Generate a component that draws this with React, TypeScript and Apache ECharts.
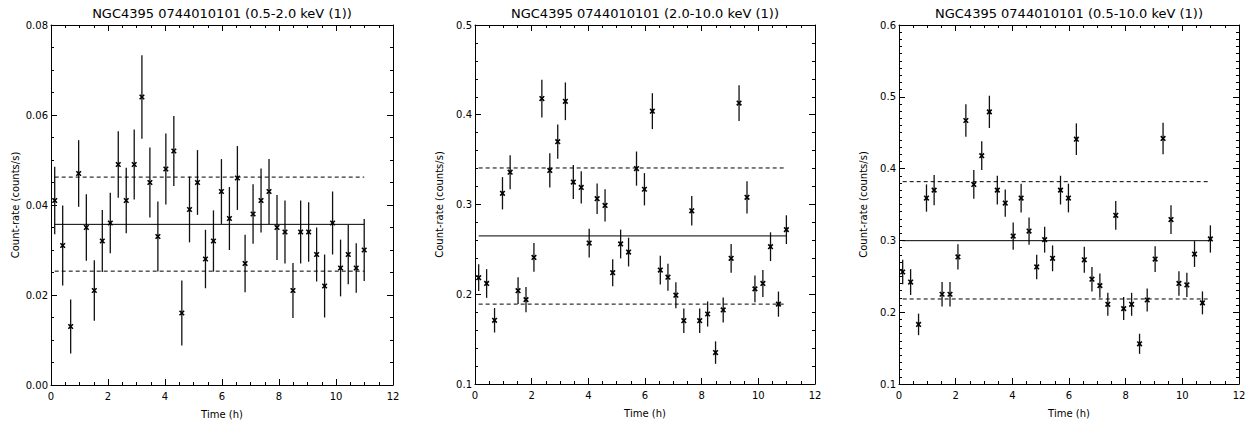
import React, { useEffect, useRef } from "react";
import * as echarts from "echarts";

// Time of each bin (h)
const times = [
  0.13, 0.41, 0.69, 0.97, 1.24, 1.52, 1.8, 2.08, 2.36, 2.64,
  2.92, 3.19, 3.47, 3.75, 4.03, 4.31, 4.59, 4.86, 5.14, 5.42,
  5.7, 5.98, 6.26, 6.54, 6.81, 7.09, 7.37, 7.65, 7.93, 8.21,
  8.49, 8.76, 9.04, 9.32, 9.6, 9.88, 10.16, 10.43, 10.71, 10.99,
];

// Panel 1: 0.5-2.0 keV
const rate1 = [
  0.041, 0.031, 0.013, 0.047, 0.035, 0.021, 0.032, 0.036, 0.049, 0.041,
  0.049, 0.064, 0.045, 0.033, 0.048, 0.052, 0.016, 0.039, 0.045, 0.028,
  0.032, 0.043, 0.037, 0.046, 0.027, 0.038, 0.041, 0.043, 0.035, 0.034,
  0.021, 0.034, 0.034, 0.029, 0.022, 0.036, 0.026, 0.029, 0.026, 0.03,
];
const err1 = [
  0.0075, 0.0089, 0.006, 0.0074, 0.0074, 0.0067, 0.0069, 0.0067, 0.0074, 0.0073,
  0.0078, 0.0093, 0.0078, 0.0078, 0.0079, 0.0078, 0.0072, 0.0073, 0.0072, 0.0065,
  0.0068, 0.0072, 0.007, 0.0071, 0.0064, 0.0066, 0.0071, 0.0072, 0.0072, 0.007,
  0.0061, 0.007, 0.0066, 0.006, 0.007, 0.007, 0.0063, 0.0066, 0.0055, 0.0069,
];
const levels1 = { mean: 0.0357, upper: 0.0462, lower: 0.0253 };

// Panel 2: 2.0-10.0 keV
const rate2 = [
  0.2185, 0.212, 0.171, 0.3125, 0.336, 0.204, 0.194, 0.241, 0.418, 0.338,
  0.37, 0.415, 0.325, 0.319, 0.257, 0.3065, 0.299, 0.224, 0.256, 0.247,
  0.34, 0.317, 0.404, 0.227, 0.219, 0.199, 0.1705, 0.293, 0.1705, 0.178,
  0.135, 0.1825, 0.24, 0.413, 0.308, 0.206, 0.212, 0.253, 0.189, 0.272,
];
const err2 = [
  0.015, 0.016, 0.0136, 0.018, 0.019, 0.015, 0.014, 0.016, 0.021, 0.019,
  0.019, 0.021, 0.019, 0.018, 0.016, 0.017, 0.018, 0.015, 0.016, 0.016,
  0.019, 0.018, 0.02, 0.016, 0.015, 0.0145, 0.0136, 0.0165, 0.0136, 0.014,
  0.0125, 0.014, 0.016, 0.02, 0.018, 0.015, 0.015, 0.016, 0.014, 0.016,
];
const levels2 = { mean: 0.265, upper: 0.3407, lower: 0.189 };

// Panel 3: 0.5-10.0 keV
const rate3 = [
  0.256, 0.242, 0.183, 0.359, 0.37, 0.225, 0.225, 0.277, 0.467, 0.378,
  0.418, 0.479, 0.37, 0.352, 0.306, 0.359, 0.313, 0.263, 0.301, 0.275,
  0.37, 0.359, 0.441, 0.273, 0.246, 0.237, 0.211, 0.335, 0.205, 0.211,
  0.156, 0.217, 0.274, 0.442, 0.329, 0.24, 0.238, 0.281, 0.213, 0.302,
];
const err3 = [
  0.017, 0.018, 0.015, 0.019, 0.021, 0.017, 0.017, 0.0175, 0.0225, 0.02,
  0.02, 0.0225, 0.02, 0.019, 0.019, 0.02, 0.019, 0.017, 0.018, 0.018,
  0.02, 0.02, 0.022, 0.018, 0.017, 0.017, 0.016, 0.02, 0.016, 0.016,
  0.014, 0.016, 0.018, 0.022, 0.02, 0.017, 0.017, 0.018, 0.016, 0.019,
];
const levels3 = { mean: 0.2996, upper: 0.3818, lower: 0.2184 };

const titles = [
  "NGC4395 0744010101 (0.5-2.0 keV (1))",
  "NGC4395 0744010101 (2.0-10.0 keV (1))",
  "NGC4395 0744010101 (0.5-10.0 keV (1))",
];
const xTicks = { min: 0, max: 12, interval: 2 };
const yRanges = [
  { min: 0, max: 0.08, interval: 0.02, minor: 4, digits: 2 },
  { min: 0.1, max: 0.5, interval: 0.1, minor: 5, digits: 1 },
  { min: 0.1, max: 0.6, interval: 0.1, minor: 10, digits: 1 },
];

const FONT = "DejaVu Sans";

export default function App() {
  const ref = useRef<HTMLDivElement>(null);

  useEffect(() => {
    if (!ref.current) return;
    const chart = echarts.init(ref.current, undefined, { renderer: "svg" });

    const panels = [
      { rate: rate1, err: err1, levels: levels1 },
      { rate: rate2, err: err2, levels: levels2 },
      { rate: rate3, err: err3, levels: levels3 },
    ];
    const grids = [
      { left: 51, top: 25, width: 342, height: 360 },
      { left: 475, top: 25, width: 340, height: 359 },
      { left: 899, top: 25, width: 340, height: 359 },
    ];

    const axisLine = { show: true, onZero: false, lineStyle: { color: "#000", width: 1 } };
    const xAxes: any[] = [];
    const yAxes: any[] = [];
    const series: any[] = [];

    grids.forEach((g, i) => {
      const yr = yRanges[i];
      const baseX = {
        type: "value",
        gridIndex: i,
        min: xTicks.min,
        max: xTicks.max,
        interval: xTicks.interval,
        axisLine,
        axisTick: { show: true, inside: true, length: 6, lineStyle: { color: "#000" } },
        minorTick: { show: true, splitNumber: 4, length: 3, lineStyle: { color: "#000" } },
        splitLine: { show: false },
        minorSplitLine: { show: false },
      };
      xAxes.push({
        ...baseX,
        position: "bottom",
        name: "Time (h)",
        nameLocation: "middle",
        nameGap: 24,
        nameTextStyle: { color: "#000", fontSize: 10, fontFamily: FONT },
        axisLabel: { color: "#000", fontSize: 10, fontFamily: FONT, margin: 6 },
      });
      xAxes.push({ ...baseX, position: "top", axisLabel: { show: false } });

      const baseY = {
        type: "value",
        gridIndex: i,
        min: yr.min,
        max: yr.max,
        interval: yr.interval,
        axisLine,
        axisTick: { show: true, inside: true, length: 6, lineStyle: { color: "#000" } },
        minorTick: { show: true, splitNumber: yr.minor, length: 3, lineStyle: { color: "#000" } },
        splitLine: { show: false },
        minorSplitLine: { show: false },
      };
      yAxes.push({
        ...baseY,
        position: "left",
        name: "Count-rate (counts/s)",
        nameLocation: "middle",
        nameGap: 31,
        nameTextStyle: { color: "#000", fontSize: 10, fontFamily: FONT },
        axisLabel: {
          color: "#000",
          fontSize: 10,
          fontFamily: FONT,
          margin: 3,
          formatter: (v: number) => v.toFixed(yr.digits),
        },
      });
      yAxes.push({ ...baseY, position: "right", axisLabel: { show: false } });

      const p = panels[i];
      const data = times.map((t, k) => [t, p.rate[k], p.rate[k] - p.err[k], p.rate[k] + p.err[k]]);
      series.push({
        type: "custom",
        xAxisIndex: 2 * i,
        yAxisIndex: 2 * i,
        data,
        encode: { x: 0, y: [1, 2, 3] },
        renderItem: (params: any, api: any) => {
          const c = api.coord([api.value(0), api.value(1)]);
          const lo = api.coord([api.value(0), api.value(2)]);
          const hi = api.coord([api.value(0), api.value(3)]);
          const s = 2.3;
          return {
            type: "group",
            children: [
              {
                type: "line",
                shape: { x1: c[0], y1: lo[1], x2: c[0], y2: hi[1] },
                style: { stroke: "#111", lineWidth: 1.3 },
              },
              {
                type: "line",
                shape: { x1: c[0] - s, y1: c[1] - s, x2: c[0] + s, y2: c[1] + s },
                style: { stroke: "#000", lineWidth: 1.6 },
              },
              {
                type: "line",
                shape: { x1: c[0] - s, y1: c[1] + s, x2: c[0] + s, y2: c[1] - s },
                style: { stroke: "#000", lineWidth: 1.6 },
              },
            ],
          };
        },
      });

      const t0 = times[0];
      const t1 = times[times.length - 1];
      const lvl = [
        { v: p.levels.mean, type: "solid" },
        { v: p.levels.upper, type: [4, 3] },
        { v: p.levels.lower, type: [4, 3] },
      ];
      lvl.forEach((l) => {
        series.push({
          type: "line",
          xAxisIndex: 2 * i,
          yAxisIndex: 2 * i,
          data: [
            [t0, l.v],
            [t1, l.v],
          ],
          symbol: "none",
          silent: true,
          lineStyle: { color: "#000", width: 1, type: l.type },
        });
      });
    });

    const graphic = grids.map((g, i) => ({
      type: "text",
      x: g.left + g.width / 2,
      y: 13,
      style: {
        text: titles[i],
        fontSize: 13,
        fontFamily: FONT,
        fill: "#000",
        textAlign: "center",
        textVerticalAlign: "middle",
      },
    }));

    chart.setOption({
      animation: false,
      backgroundColor: "#fff",
      grid: grids.map((g) => ({ ...g, containLabel: false })),
      xAxis: xAxes,
      yAxis: yAxes,
      series,
      graphic,
    });

    return () => {
      chart.dispose();
    };
  }, []);

  return (
    <div
      ref={ref}
      style={{ position: "fixed", left: 0, top: 0, width: 1254, height: 425, background: "#fff" }}
    />
  );
}
